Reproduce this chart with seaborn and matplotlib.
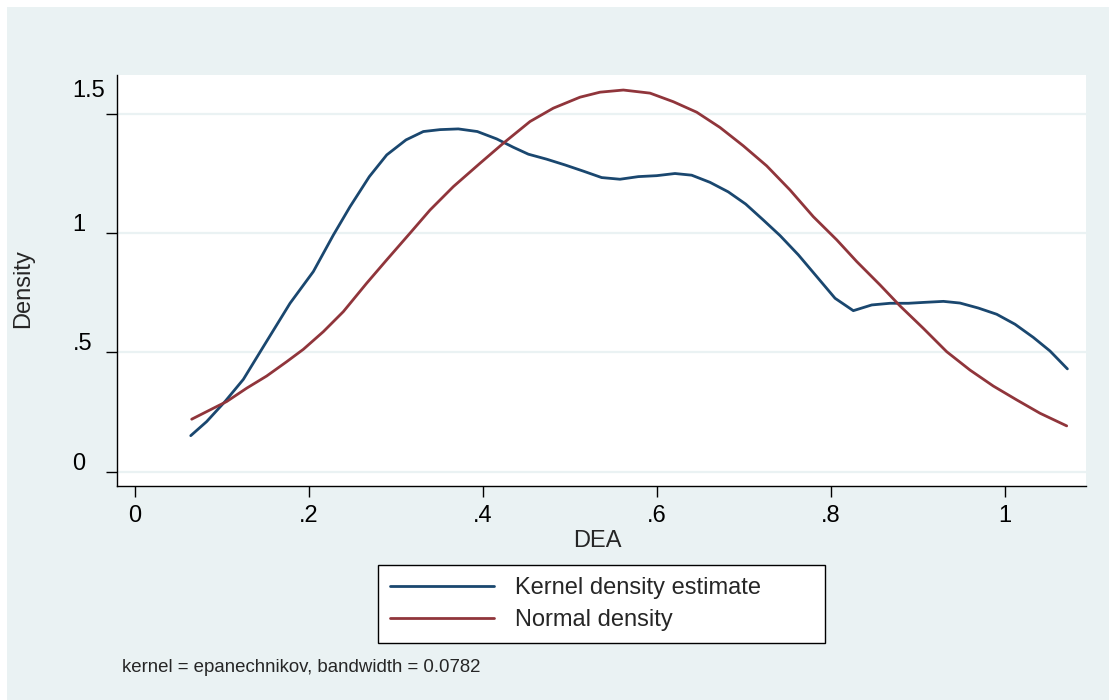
import matplotlib
matplotlib.use("Agg")
import matplotlib.pyplot as plt
import matplotlib.transforms as mtransforms
from matplotlib.patches import Rectangle
from matplotlib.lines import Line2D
import seaborn as sns
import pandas as pd

# kernel density estimate
kde_x = [0.0641, 0.0824, 0.1035, 0.1246, 0.1476, 0.1783, 0.2051, 0.2281, 0.2473, 0.2695,
         0.2895, 0.3117, 0.3316, 0.3508, 0.3718, 0.3937, 0.4160, 0.4351, 0.4524, 0.4735,
         0.4945, 0.5156, 0.5367, 0.5578, 0.5789, 0.6000, 0.6210, 0.6402, 0.6613, 0.6823,
         0.7023, 0.7226, 0.7418, 0.7629, 0.7840, 0.8051, 0.8261, 0.8473, 0.8683, 0.8894,
         0.9086, 0.9297, 0.9488, 0.9699, 0.9910, 1.0121, 1.0331, 1.0523, 1.0723]
kde_y = [0.151, 0.210, 0.294, 0.387, 0.524, 0.706, 0.839, 0.992, 1.111, 1.237,
         1.328, 1.391, 1.426, 1.434, 1.437, 1.426, 1.395, 1.360, 1.331, 1.310,
         1.286, 1.260, 1.233, 1.226, 1.237, 1.241, 1.250, 1.243, 1.213, 1.173,
         1.122, 1.055, 0.990, 0.909, 0.818, 0.727, 0.675, 0.699, 0.706, 0.706,
         0.710, 0.714, 0.707, 0.686, 0.660, 0.618, 0.563, 0.506, 0.431]

# normal density overlay
norm_x = [0.0652, 0.0901, 0.1054, 0.1284, 0.1514, 0.1744, 0.1936, 0.2166, 0.2396, 0.2664,
          0.2895, 0.3163, 0.3393, 0.3661, 0.3968, 0.4236, 0.4543, 0.4811, 0.5118, 0.5348,
          0.5616, 0.5923, 0.6191, 0.6460, 0.6728, 0.6996, 0.7265, 0.7533, 0.7801, 0.8070,
          0.8300, 0.8568, 0.8798, 0.9066, 0.9335, 0.9603, 0.9871, 1.0140, 1.0408, 1.0715]
norm_y = [0.220, 0.266, 0.294, 0.350, 0.401, 0.461, 0.513, 0.587, 0.671, 0.790,
          0.888, 1.000, 1.097, 1.195, 1.293, 1.377, 1.468, 1.524, 1.570, 1.591,
          1.600, 1.587, 1.551, 1.507, 1.443, 1.366, 1.282, 1.181, 1.069, 0.972,
          0.881, 0.783, 0.695, 0.601, 0.503, 0.426, 0.359, 0.301, 0.245, 0.192]

series_names = ["Kernel density estimate", "Normal density"]
x_ticks = [0, 0.2, 0.4, 0.6, 0.8, 1.0]
x_tick_labels = ["0", ".2", ".4", ".6", ".8", "1"]
y_ticks = [0, 0.5, 1, 1.5]
y_tick_labels = ["0", ".5", "1", "1.5"]
note = "kernel = epanechnikov, bandwidth = 0.0782"

df = pd.concat([
    pd.DataFrame({"DEA": kde_x, "Density": kde_y, "series": series_names[0]}),
    pd.DataFrame({"DEA": norm_x, "Density": norm_y, "series": series_names[1]}),
])

sns.set_style("white")
plt.rcParams["font.family"] = ["Liberation Sans", "DejaVu Sans"]

bg = "#EAF2F3"
navy = "#1A476F"
maroon = "#90353B"
W, H = 1109, 700

fig = plt.figure(figsize=(W / 100, H / 100), dpi=100, facecolor="white")
fig.patches.append(Rectangle((7 / W, 0), 1, 1 - 7 / H, transform=fig.transFigure,
                             facecolor=bg, edgecolor="none", zorder=-10))

ax = fig.add_axes([117 / W, 1 - 486 / H, (1086 - 117) / W, (486 - 75) / H])
ax.set_facecolor("white")

sns.lineplot(data=df, x="DEA", y="Density", hue="series", palette=[navy, maroon],
             estimator=None, sort=False, linewidth=2.0, legend=False, ax=ax)

ax.set_xlim(-0.0207, 1.0937)
ax.set_ylim(-0.060, 1.663)

for yv in y_ticks:
    ax.axhline(yv, color=bg, linewidth=1.6, zorder=0)

ax.set_xticks(x_ticks)
ax.set_xticklabels(x_tick_labels)
ax.set_yticks(y_ticks)
ax.set_yticklabels(y_tick_labels)
ax.tick_params(axis="both", which="major", direction="out", length=8, width=1,
               color="black", labelsize=17, labelcolor="black",
               bottom=True, left=True, top=False, right=False)
ax.tick_params(axis="x", pad=6)
ax.tick_params(axis="y", pad=24)
for lab in ax.get_yticklabels():
    lab.set_horizontalalignment("left")
    lab.set_verticalalignment("bottom")
    dy = -3 / 100
    if lab.get_text() == "1.5":
        dy = 12 / 100
    lab.set_transform(lab.get_transform() +
                      mtransforms.ScaledTranslation(0, dy, fig.dpi_scale_trans))

for side in ["top", "right"]:
    ax.spines[side].set_visible(False)
for side in ["left", "bottom"]:
    ax.spines[side].set_color("black")
    ax.spines[side].set_linewidth(1.0)

ax.set_xlabel("")
ax.set_ylabel("")
fig.text(597 / W, 1 - 541 / H, "DEA", fontsize=17, ha="center", va="center")
fig.text(23 / W, 1 - 289 / H, "Density", fontsize=17, ha="center", va="center",
         rotation=90)

handles = [Line2D([], [], color=navy, linewidth=2.0),
           Line2D([], [], color=maroon, linewidth=2.0)]
leg = fig.legend(handles, series_names, loc="upper left", mode="expand",
                 bbox_to_anchor=(378 / W, 1 - 643 / H, 447 / W, 78 / H),
                 bbox_transform=fig.transFigure, fontsize=17, frameon=True,
                 fancybox=False, borderaxespad=0, borderpad=0.5,
                 handlelength=4.4, handletextpad=0.9, labelspacing=0.45)
leg.get_frame().set_edgecolor("black")
leg.get_frame().set_linewidth(1.0)
leg.get_frame().set_facecolor("white")
leg.get_frame().set_alpha(1)

fig.text(122 / W, 1 - 672 / H, note, fontsize=13.4, ha="left", va="baseline")

fig.savefig("out.png", dpi=100, facecolor=fig.get_facecolor())
